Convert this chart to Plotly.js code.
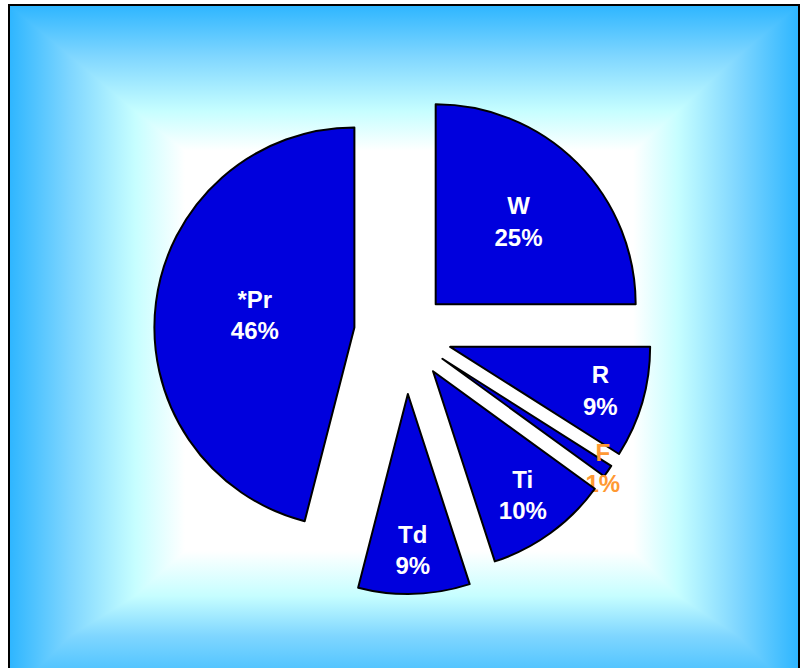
<!DOCTYPE html>
<html>
<head>
<meta charset="utf-8">
<script src="https://cdn.plot.ly/plotly-3.0.1.min.js"></script>
<style>
  html, body { margin: 0; padding: 0; background: #ffffff; width: 806px; height: 668px; overflow: hidden; }
  #bg {
    position: absolute; left: 8px; top: 4px; width: 788px; height: 700px;
    border: 2px solid #000; border-bottom: none;
    background:
      linear-gradient(to right, #2fb6ff 0px, #7fd6ff 60px, #c6feff 125px, #ffffff 175px, #ffffff calc(100% - 165px), #c6feff calc(100% - 120px), #7fd6ff calc(100% - 60px), #2fb6ff 100%),
      linear-gradient(to bottom, #2fb6ff 0px, #7fd6ff 50px, #c6feff 105px, #ffffff 145px, #ffffff 545px, #c6feff 590px, #7fd6ff 630px, #2fb6ff 690px);
    background-blend-mode: darken;
  }
  #chart { position: absolute; left: 0; top: 0; width: 806px; height: 668px; }
</style>
</head>
<body>
<div id="bg"></div>
<div id="chart"></div>
<script>
const labels = ['W', 'R', 'F', 'Ti', 'Td', '*Pr'];
const percents = [25, 9, 1, 10, 9, 46];
const pulls = [0.21, 0.23, 0.22, 0.23, 0.30, 0.26];
const textColors = ['#ffffff', '#ffffff', '#ff9933', '#ffffff', '#ffffff', '#ffffff'];

const trace = {
  type: 'pie',
  labels: labels,
  values: percents,
  sort: false,
  direction: 'clockwise',
  rotation: 0,
  pull: pulls,
  marker: { colors: labels.map(() => '#0000dd'), line: { color: '#000000', width: 2 } },
  textinfo: 'label+percent',
  texttemplate: '%{label}<br>%{percent:.0%}',
  textposition: 'inside',
  insidetextorientation: 'horizontal',
  textfont: { family: 'Liberation Sans, Arial, sans-serif', size: 24, color: textColors, weight: 'bold' },
  hoverinfo: 'none',
  domain: { x: [0.1811, 0.8263], y: [0.1108, 0.8892] },
  showlegend: false
};

const layout = {
  width: 806, height: 668,
  margin: { l: 0, r: 0, t: 0, b: 0 },
  paper_bgcolor: 'rgba(0,0,0,0)',
  plot_bgcolor: 'rgba(0,0,0,0)',
  uniformtext: { mode: 'show', minsize: 24 },
  showlegend: false
};

Plotly.newPlot('chart', [trace], layout, { displayModeBar: false, staticPlot: true });
</script>
</body>
</html>
